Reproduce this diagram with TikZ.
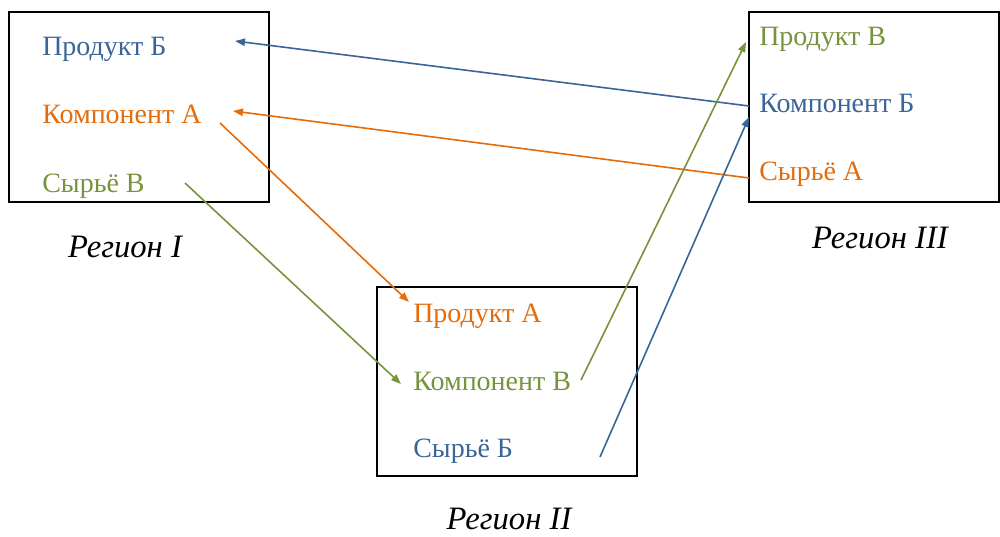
\documentclass[tikz,border=0pt]{standalone}
\usepackage{fontspec}
\setmainfont{Liberation Serif}
\usetikzlibrary{arrows.meta}
\definecolor{cblue}{HTML}{3A6597}
\definecolor{corange}{HTML}{E46C0A}
\definecolor{cgreen}{HTML}{77933C}
\tikzset{
  box/.style={draw=black,line width=1.5pt},
  item/.style={anchor=base west,inner sep=0pt,font=\fontsize{21}{24}\selectfont},
  region/.style={anchor=base,inner sep=0pt,font=\fontsize{24.5}{28}\selectfont\itshape},
  flow/.style={line width=1.2pt,-{Triangle[length=7.5pt,width=5.5pt]}},
}
\begin{document}
\begin{tikzpicture}[x=0.75pt,y=-0.75pt]
\useasboundingbox (0,0) rectangle (1000,536);
% boxes
\draw[box] (9,12) rectangle (269,202);
\draw[box] (377,287) rectangle (637,476);
\draw[box] (749,12) rectangle (999,202);
% region I
\node[item,text=cblue]   (pB) at (42,55)  {Продукт Б};
\node[item,text=corange] (kA) at (42,123) {Компонент А};
\node[item,text=cgreen]  (sV) at (42,192) {Сырьё В};
% region II
\node[item,text=corange] (pA) at (413,322) {Продукт А};
\node[item,text=cgreen]  (kV) at (413,390) {Компонент В};
\node[item,text=cblue]   (sB) at (413,457) {Сырьё Б};
% region III
\node[item,text=cgreen]  (pV) at (759,45)  {Продукт В};
\node[item,text=cblue]   (kB) at (759,112) {Компонент Б};
\node[item,text=corange] (sA) at (759,180) {Сырьё А};
% labels
\node[region] (r1) at (125,257) {Регион I};
\node[region] (r2) at (509,529) {Регион II};
\node[region] (r3) at (880,248) {Регион III};
% connector ends
\coordinate (kBout) at (749,106);
\coordinate (pBin)  at (235,41);
\coordinate (sAout) at (749,178);
\coordinate (kAin)  at (233,111);
\coordinate (kAout) at (220,123);
\coordinate (pAin)  at (409,302);
\coordinate (sVout) at (185,183);
\coordinate (kVin)  at (401,384);
\coordinate (kVout) at (581,380);
\coordinate (pVin)  at (746,42);
\coordinate (sBout) at (600,457);
\coordinate (kBin)  at (749,117);
% connectors
\draw[flow,cblue]   (kBout) -- (pBin);
\draw[flow,corange] (sAout) -- (kAin);
\draw[flow,corange] (kAout) -- (pAin);
\draw[flow,cgreen]  (sVout) -- (kVin);
\draw[flow,cgreen]  (kVout) -- (pVin);
\draw[flow,cblue]   (sBout) -- (kBin);
\end{tikzpicture}
\end{document}
